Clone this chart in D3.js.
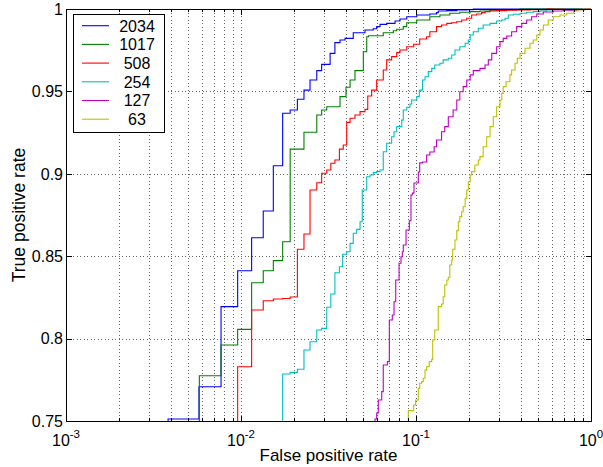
<!DOCTYPE html>
<html>
<head>
<meta charset="utf-8">
<script src="https://cdn.jsdelivr.net/npm/d3@7"></script>
<style>
  body { margin: 0; background: #fff; }
  svg { display: block; }
  text { font-family: "Liberation Sans", Arial, Helvetica, sans-serif; fill: #000; }
</style>
</head>
<body>
<svg id="chart" width="603" height="467"></svg>
<script>
// ROC points: [false positive rate, true positive rate]
// Each point is where the curve stops rising at that false positive rate.
const roc2034 = [
  [0.00383, 0.7512], [0.00575, 0.7708], [0.00769, 0.8194], [0.00957, 0.8412], [0.0115, 0.8612],
  [0.0134, 0.8774], [0.0153, 0.9049], [0.0173, 0.9367], [0.0191, 0.9387], [0.0210, 0.9452],
  [0.0229, 0.9508], [0.0248, 0.9569], [0.0271, 0.9626], [0.0289, 0.9664], [0.0323, 0.9731],
  [0.0344, 0.9796], [0.0368, 0.9812], [0.0393, 0.9822], [0.0438, 0.9856], [0.0511, 0.9873],
  [0.0570, 0.9880], [0.0596, 0.9893], [0.0623, 0.9907], [0.068, 0.9913], [0.0759, 0.9927],
  [0.081, 0.9939], [0.0885, 0.9953], [0.101, 0.9964], [0.120, 0.9970], [0.131, 0.9978],
  [0.134, 0.9988], [0.150, 0.9990], [0.171, 0.9994], [0.195, 0.9996], [0.2125, 1], [1, 1]
];

const roc1017 = [
  [0.00578, 0.7775], [0.00769, 0.7961], [0.00957, 0.8056], [0.0115, 0.8339], [0.0134, 0.8412],
  [0.0153, 0.8473], [0.0173, 0.8588], [0.0191, 0.9150], [0.0229, 0.9252], [0.0271, 0.9357],
  [0.0289, 0.9387], [0.0309, 0.9407], [0.0368, 0.9468], [0.0398, 0.9525], [0.042, 0.9569],
  [0.0448, 0.9626], [0.0500, 0.9741], [0.0523, 0.9832], [0.0535, 0.9838], [0.065, 0.9856],
  [0.0742, 0.9868], [0.0776, 0.9877], [0.0846, 0.9893], [0.0885, 0.9917], [0.101, 0.9933],
  [0.120, 0.9953], [0.137, 0.9964], [0.156, 0.9974], [0.178, 0.9980], [0.204, 0.9984],
  [0.232, 0.9988], [0.265, 0.9992], [0.323, 0.9996], [0.393, 1], [1, 1]
];

const roc508 = [
  [0.00957, 0.7829], [0.0115, 0.8174], [0.0134, 0.8230], [0.0153, 0.8240], [0.0173, 0.8243],
  [0.0191, 0.8252], [0.0210, 0.8542], [0.0229, 0.8635], [0.0248, 0.8902], [0.0271, 0.8946],
  [0.0289, 0.9003], [0.0309, 0.9023], [0.0326, 0.9064], [0.0344, 0.9084], [0.0365, 0.9150],
  [0.0384, 0.9175], [0.0402, 0.9312], [0.042, 0.9337], [0.0448, 0.9357], [0.0479, 0.9377],
  [0.0511, 0.9391], [0.0530, 0.9472], [0.0558, 0.9508], [0.0596, 0.9569], [0.065, 0.9630],
  [0.068, 0.9691], [0.0726, 0.9711], [0.0776, 0.9735], [0.081, 0.9751], [0.0885, 0.9771],
  [0.097, 0.9786], [0.105, 0.9818], [0.115, 0.9832], [0.120, 0.9862], [0.131, 0.9893],
  [0.140, 0.9903], [0.150, 0.9913], [0.160, 0.9917], [0.171, 0.9923], [0.1825, 0.9933],
  [0.195, 0.9944], [0.208, 0.9964], [0.222, 0.9970], [0.237, 0.9978], [0.248, 0.9984],
  [0.265, 0.9988], [0.289, 0.9990], [0.330, 0.9992], [0.376, 0.9994], [0.448, 0.9996],
  [0.558, 1], [1, 1]
];

const roc254 = [
  [0.0173, 0.7785], [0.0191, 0.7795], [0.0210, 0.7814], [0.0229, 0.7931], [0.0248, 0.7981],
  [0.0271, 0.8052], [0.0289, 0.8062], [0.0309, 0.8190], [0.0326, 0.8271], [0.0344, 0.8400],
  [0.0365, 0.8436], [0.0381, 0.8512], [0.0402, 0.8527], [0.042, 0.8578], [0.0438, 0.8639],
  [0.0458, 0.8663], [0.0479, 0.8709], [0.0493, 0.8902], [0.0523, 0.8982], [0.0546, 0.8993],
  [0.057, 0.9007], [0.0596, 0.9013], [0.0623, 0.9023], [0.065, 0.9134], [0.068, 0.9185],
  [0.0726, 0.9225], [0.0749, 0.9255], [0.0776, 0.9286], [0.0829, 0.9326], [0.0846, 0.9387],
  [0.0885, 0.9404], [0.0924, 0.9424], [0.0945, 0.9448], [0.101, 0.9468], [0.1044, 0.9508],
  [0.109, 0.9569], [0.1126, 0.9589], [0.1176, 0.9620], [0.123, 0.9640], [0.128, 0.9660],
  [0.137, 0.9671], [0.143, 0.9691], [0.153, 0.9701], [0.160, 0.9721], [0.167, 0.9751],
  [0.178, 0.9771], [0.191, 0.9792], [0.199, 0.9812], [0.204, 0.9842], [0.2125, 0.9862],
  [0.227, 0.9883], [0.242, 0.9903], [0.265, 0.9913], [0.289, 0.9927], [0.309, 0.9933],
  [0.323, 0.9944], [0.337, 0.9964], [0.36, 0.9968], [0.393, 0.9974], [0.429, 0.9980],
  [0.468, 0.9984], [0.511, 0.9988], [0.558, 0.9994], [0.609, 0.9998], [0.710, 1], [1, 1]
];

const roc127 = [
  [0.0583, 0.7512], [0.0596, 0.7549], [0.0609, 0.7627], [0.0637, 0.7678], [0.065, 0.7840],
  [0.0686, 0.7860], [0.0704, 0.8113], [0.0732, 0.8143], [0.0749, 0.8224], [0.0766, 0.8356],
  [0.080, 0.8457], [0.0821, 0.8497], [0.0835, 0.8527], [0.0846, 0.8568], [0.0877, 0.8659],
  [0.0916, 0.8715], [0.0936, 0.8871], [0.0953, 0.8883], [0.0974, 0.8944], [0.1031, 0.9011],
  [0.105, 0.9066], [0.109, 0.9072], [0.115, 0.9114], [0.120, 0.9132], [0.127, 0.9164],
  [0.131, 0.9205], [0.140, 0.9255], [0.146, 0.9286], [0.153, 0.9346], [0.163, 0.9387],
  [0.171, 0.9448], [0.178, 0.9498], [0.186, 0.9529], [0.195, 0.9569], [0.204, 0.9600],
  [0.2125, 0.9626], [0.232, 0.9640], [0.248, 0.9660], [0.259, 0.9691], [0.271, 0.9731],
  [0.289, 0.9771], [0.302, 0.9802], [0.315, 0.9822], [0.330, 0.9836], [0.352, 0.9862],
  [0.376, 0.9893], [0.402, 0.9913], [0.429, 0.9933], [0.458, 0.9953], [0.490, 0.9970],
  [0.534, 0.9982], [0.609, 0.9988], [0.695, 0.9992], [0.829, 0.9996], [0.924, 1], [1, 1]
];

const roc63 = [
  [0.0904, 0.7563], [0.097, 0.7597], [0.0995, 0.7627], [0.1031, 0.7698], [0.105, 0.7729],
  [0.1077, 0.7739], [0.110, 0.7759], [0.1126, 0.7809], [0.115, 0.7829], [0.119, 0.7860],
  [0.123, 0.7874], [0.1246, 0.7992], [0.128, 0.8052], [0.134, 0.8194], [0.140, 0.8210],
  [0.143, 0.8254], [0.146, 0.8325], [0.150, 0.8356], [0.153, 0.8372], [0.156, 0.8447],
  [0.160, 0.8477], [0.162, 0.8542], [0.167, 0.8598], [0.171, 0.8655], [0.1745, 0.8709],
  [0.178, 0.8740], [0.1825, 0.8770], [0.186, 0.8800], [0.191, 0.8851], [0.195, 0.8902],
  [0.199, 0.8952], [0.204, 0.8993], [0.208, 0.9013], [0.217, 0.9053], [0.227, 0.9084],
  [0.232, 0.9104], [0.242, 0.9164], [0.2535, 0.9225], [0.265, 0.9286], [0.2765, 0.9346],
  [0.289, 0.9407], [0.302, 0.9448], [0.309, 0.9488], [0.315, 0.9529], [0.327, 0.9559],
  [0.344, 0.9600], [0.352, 0.9630], [0.368, 0.9671], [0.379, 0.9701], [0.393, 0.9731],
  [0.420, 0.9762], [0.448, 0.9792], [0.468, 0.9812], [0.490, 0.9842], [0.511, 0.9873],
  [0.534, 0.9903], [0.570, 0.9933], [0.609, 0.9953], [0.665, 0.9964], [0.726, 0.9974],
  [0.796, 0.9988], [0.846, 0.9996], [0.904, 1], [1, 1]
];

const seriesNames = ['2034', '1017', '508', '254', '127', '63'];
const seriesData = [roc2034, roc1017, roc508, roc254, roc127, roc63];
const seriesColors = ['#0000ff', '#008000', '#ff0000', '#00bfbf', '#bf00bf', '#bfbf00'];

const xMajorTicks = [1e-3, 1e-2, 1e-1, 1];
const xTickExponents = ['-3', '-2', '-1', '0'];
const yTicks = [0.75, 0.8, 0.85, 0.9, 0.95, 1];
const yTickLabels = ['0.75', '0.8', '0.85', '0.9', '0.95', '1'];

const plot = { left: 66, right: 591, top: 9, bottom: 421 };

function drawChart() {
  let svg = d3.select('#chart');

  let x = d3.scaleLog().domain([1e-3, 1]).range([plot.left, plot.right]);
  let y = d3.scaleLinear().domain([0.75, 1]).range([plot.bottom, plot.top]);

  let xMinorTicks = x.ticks().filter(t => !xMajorTicks.some(m => Math.abs(m - t) < t * 1e-6));

  // Dotted grid, minor and major decades on x, major only on y.
  let grid = svg.append('g')
    .attr('stroke', '#666')
    .attr('stroke-width', 1)
    .attr('stroke-dasharray', '1,2.5')
    .attr('shape-rendering', 'crispEdges');

  grid.selectAll('line.xgrid')
    .data(x.ticks().filter(t => t > 1e-3 * 1.0001 && t < 0.9999))
    .enter()
    .append('line')
      .attr('x1', d => Math.round(x(d)) + 0.5)
      .attr('x2', d => Math.round(x(d)) + 0.5)
      .attr('y1', plot.top)
      .attr('y2', plot.bottom);

  grid.selectAll('line.ygrid')
    .data(yTicks.slice(1, -1))
    .enter()
    .append('line')
      .attr('x1', plot.left)
      .attr('x2', plot.right)
      .attr('y1', d => Math.round(y(d)) + 0.5)
      .attr('y2', d => Math.round(y(d)) + 0.5);

  // Curves, clipped to the axes box.
  svg.append('clipPath')
    .attr('id', 'plot-clip')
    .append('rect')
      .attr('x', plot.left)
      .attr('y', plot.top - 1)
      .attr('width', plot.right - plot.left)
      .attr('height', plot.bottom - plot.top + 1);

  let line = d3.line()
    .x(d => x(d[0]))
    .y(d => y(d[1]))
    .curve(d3.curveStepAfter);

  let curves = svg.append('g').attr('clip-path', 'url(#plot-clip)');
  seriesData.forEach((points, i) => {
    // start each curve from the bottom edge at its first false positive rate
    let path = [[points[0][0], y.domain()[0]]].concat(points);
    curves.append('path')
      .attr('d', line(path))
      .attr('fill', 'none')
      .attr('stroke', seriesColors[i])
      .attr('stroke-width', 1.1);
  });

  // Axes box and inward ticks on all four sides.
  svg.append('rect')
    .attr('x', plot.left + 0.5)
    .attr('y', plot.top + 0.5)
    .attr('width', plot.right - plot.left)
    .attr('height', plot.bottom - plot.top)
    .attr('fill', 'none')
    .attr('stroke', '#000')
    .attr('stroke-width', 1)
    .attr('shape-rendering', 'crispEdges');

  let tickAxes = [
    [d3.axisBottom(x).tickValues(xMajorTicks).tickSize(-5.5), `translate(0,${plot.bottom})`],
    [d3.axisBottom(x).tickValues(xMinorTicks).tickSize(-3), `translate(0,${plot.bottom})`],
    [d3.axisTop(x).tickValues(xMajorTicks).tickSize(-5.5), `translate(0,${plot.top})`],
    [d3.axisTop(x).tickValues(xMinorTicks).tickSize(-3), `translate(0,${plot.top})`],
    [d3.axisLeft(y).tickValues(yTicks).tickSize(-5.5), `translate(${plot.left},0)`],
    [d3.axisRight(y).tickValues(yTicks).tickSize(-5.5), `translate(${plot.right},0)`]
  ];
  tickAxes.forEach(([axis, transform]) => {
    let g = svg.append('g')
      .attr('transform', transform)
      .call(axis.tickFormat('').tickSizeOuter(0));
    g.select('.domain').remove();
    g.selectAll('line').attr('stroke', '#000').attr('shape-rendering', 'crispEdges');
  });

  // X tick labels as powers of ten.
  let xLabels = svg.append('g');
  xMajorTicks.forEach((t, i) => {
    let label = xLabels.append('text')
      .attr('x', x(t))
      .attr('y', 446)
      .attr('text-anchor', 'middle')
      .style('font-size', '16px');
    label.append('tspan').text('10');
    label.append('tspan')
      .attr('dy', -8)
      .style('font-size', '11.5px')
      .text(xTickExponents[i]);
  });

  // Y tick labels.
  svg.append('g').selectAll('text')
    .data(d3.zip(yTicks, yTickLabels))
    .enter()
    .append('text')
      .attr('x', plot.left - 3)
      .attr('y', d => y(d[0]) + 5.8)
      .attr('text-anchor', 'end')
      .style('font-size', '16px')
      .text(d => d[1]);

  // Axis titles.
  svg.append('text')
    .attr('x', (plot.left + plot.right) / 2)
    .attr('y', 461)
    .attr('text-anchor', 'middle')
    .style('font-size', '17px')
    .text('False positive rate');

  svg.append('text')
    .attr('transform', `translate(25,${(plot.top + plot.bottom) / 2}) rotate(-90)`)
    .attr('text-anchor', 'middle')
    .style('font-size', '17.5px')
    .text('True positive rate');

  // Legend.
  let legend = svg.append('g');
  legend.append('rect')
    .attr('x', 73.5)
    .attr('y', 14.5)
    .attr('width', 91)
    .attr('height', 118)
    .attr('fill', '#fff')
    .attr('stroke', '#000')
    .attr('stroke-width', 1)
    .attr('shape-rendering', 'crispEdges');

  seriesNames.forEach((name, i) => {
    let ly = 25.7 + i * 18.7;
    legend.append('line')
      .attr('x1', 82)
      .attr('x2', 109)
      .attr('y1', ly)
      .attr('y2', ly)
      .attr('stroke', seriesColors[i])
      .attr('stroke-width', 1.1);
    legend.append('text')
      .attr('x', 137)
      .attr('y', ly + 5.8)
      .attr('text-anchor', 'middle')
      .style('font-size', '16px')
      .text(name);
  });
}

drawChart();
</script>
</body>
</html>
